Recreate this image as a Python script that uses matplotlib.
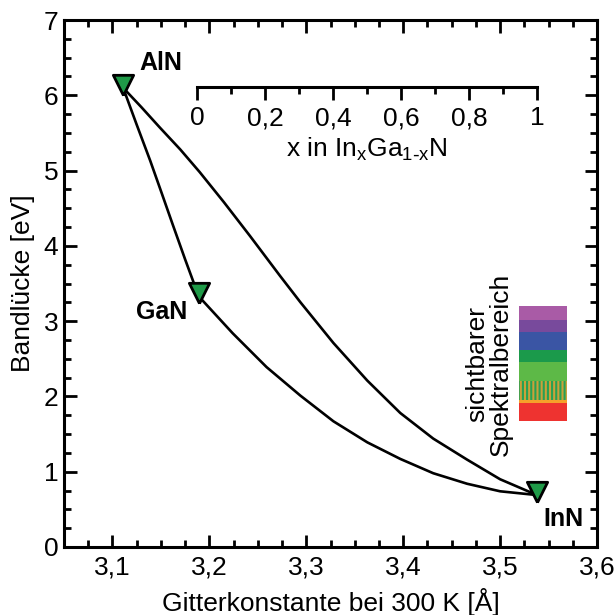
import matplotlib
matplotlib.use("Agg")
import matplotlib.pyplot as plt
from matplotlib.ticker import MultipleLocator, FixedLocator

plt.rcParams['font.family'] = ['Liberation Sans', 'DejaVu Sans']
plt.rcParams['mathtext.default'] = 'regular'
plt.rcParams['hatch.linewidth'] = 1.5

# ---- data ----
compounds = ["AlN", "GaN", "InN"]
lattice = [3.111, 3.189, 3.538]
bandgap = [6.10, 3.33, 0.69]

# AlN -> GaN
alga_x = [3.111, 3.125, 3.139, 3.150, 3.162, 3.175, 3.189]
alga_y = [6.10, 5.61, 5.13, 4.73, 4.29, 3.82, 3.33]
# AlN -> InN
alin_x = [3.111, 3.130, 3.149, 3.170, 3.190, 3.215, 3.242, 3.273, 3.294, 3.328, 3.363, 3.397, 3.431, 3.466, 3.500, 3.538]
alin_y = [6.10, 5.84, 5.57, 5.28, 4.98, 4.58, 4.13, 3.60, 3.25, 2.71, 2.21, 1.78, 1.44, 1.16, 0.90, 0.69]
# GaN -> InN
gain_x = [3.189, 3.224, 3.259, 3.294, 3.328, 3.363, 3.397, 3.431, 3.466, 3.500, 3.538]
gain_y = [3.33, 2.84, 2.39, 2.01, 1.67, 1.39, 1.17, 0.98, 0.84, 0.74, 0.69]

# visible spectrum bands (eV)
band_edges = [1.67, 1.91, 1.95, 2.20, 2.46, 2.62, 2.86, 3.01, 3.20]
band_colors = ['#ee3330', '#f6a12a', '#7fa83a', '#5db947', '#1b9a4b', '#3a55a4', '#784a9c', '#a95ba6']

xticks = [3.1, 3.2, 3.3, 3.4, 3.5, 3.6]
xticklabels = ["3,1", "3,2", "3,3", "3,4", "3,5", "3,6"]
yticks = [0, 1, 2, 3, 4, 5, 6, 7]
inset_ticks = [0, 0.2, 0.4, 0.6, 0.8, 1.0]
inset_labels = ["0", "0,2", "0,4", "0,6", "0,8", "1"]

FS = 19

fig = plt.figure(figsize=(6.16, 6.15), dpi=100)
ax = fig.add_axes([64/616, 1-547/615, 533/616, 527/615])

lw = 1.9
ax.plot(alga_x, alga_y, color='black', lw=lw, zorder=3)
ax.plot(alin_x, alin_y, color='black', lw=lw, zorder=3)
ax.plot(gain_x, gain_y, color='black', lw=lw, zorder=3)
# downward triangle whose lower part sits on the data point
tri = [(0, -0.7), (-1, 1.3), (1, 1.3), (0, -0.7)]
ax.plot(lattice, bandgap, linestyle='none', marker=tri, ms=19,
        mfc='#1f9a48', mec='black', mew=2.0, zorder=4)

label_offsets = {"AlN": (27, 18), "GaN": (-27, -11), "InN": (19, -17)}
for name, x, y in zip(compounds, lattice, bandgap):
    dx, dy = label_offsets[name]
    ax.annotate(name, (x, y), xytext=(dx, dy), textcoords='offset points',
                ha='center', va='center', fontsize=FS - 1, fontweight='bold')

# spectrum bar
for i, c in enumerate(band_colors):
    lo, hi = band_edges[i], band_edges[i+1]
    if i == 2:
        ax.bar(3.5445, hi - lo, width=0.0495, bottom=lo, color='#c9a13a',
               hatch='||||', edgecolor='#27a053', linewidth=0, zorder=2)
    else:
        ax.bar(3.5445, hi - lo, width=0.0495, bottom=lo, color=c, linewidth=0, zorder=2)

ax.text(3.4885, 2.43, "sichtbarer\nSpektralbereich", rotation=90, ha='center', va='center',
        fontsize=FS, linespacing=0.95)

ax.set_xlim(3.05, 3.6)
ax.set_ylim(0, 7)
ax.set_xticks(xticks)
ax.set_xticklabels(xticklabels)
ax.set_yticks(yticks)
ax.xaxis.set_minor_locator(MultipleLocator(0.025))
ax.yaxis.set_minor_locator(MultipleLocator(0.25))
ax.tick_params(which='both', direction='in', top=True, right=True, width=2, labelsize=FS)
ax.tick_params(which='major', length=9)
ax.tick_params(which='minor', length=5)
ax.tick_params(axis='x', pad=6)
ax.tick_params(axis='y', pad=4)
for s in ax.spines.values():
    s.set_linewidth(2.2)
ax.set_xlabel("Gitterkonstante bei 300 K [Å]", fontsize=FS, labelpad=6)
ax.set_ylabel("Bandlücke [eV]", fontsize=FS, labelpad=6)

# inset composition axis
iax = fig.add_axes([197/616, 1-87/615, 340/616, 0.0005])
iax.set_xlim(0, 1)
iax.set_ylim(0, 1)
iax.patch.set_visible(False)
for k in ['left', 'right', 'top']:
    iax.spines[k].set_visible(False)
iax.spines['bottom'].set_linewidth(2.2)
iax.set_yticks([])
iax.set_xticks(inset_ticks)
iax.set_xticklabels(inset_labels)
iax.xaxis.set_minor_locator(FixedLocator([0.1, 0.3, 0.5, 0.7, 0.9]))
iax.tick_params(which='both', direction='out', width=2, labelsize=FS)
iax.tick_params(which='major', length=9, pad=5)
iax.tick_params(which='minor', length=5)
iax.set_xlabel("x in In$_x$Ga$_{1\\text{-}x}$N", fontsize=FS, labelpad=4)

fig.savefig("out.png", dpi=100)
